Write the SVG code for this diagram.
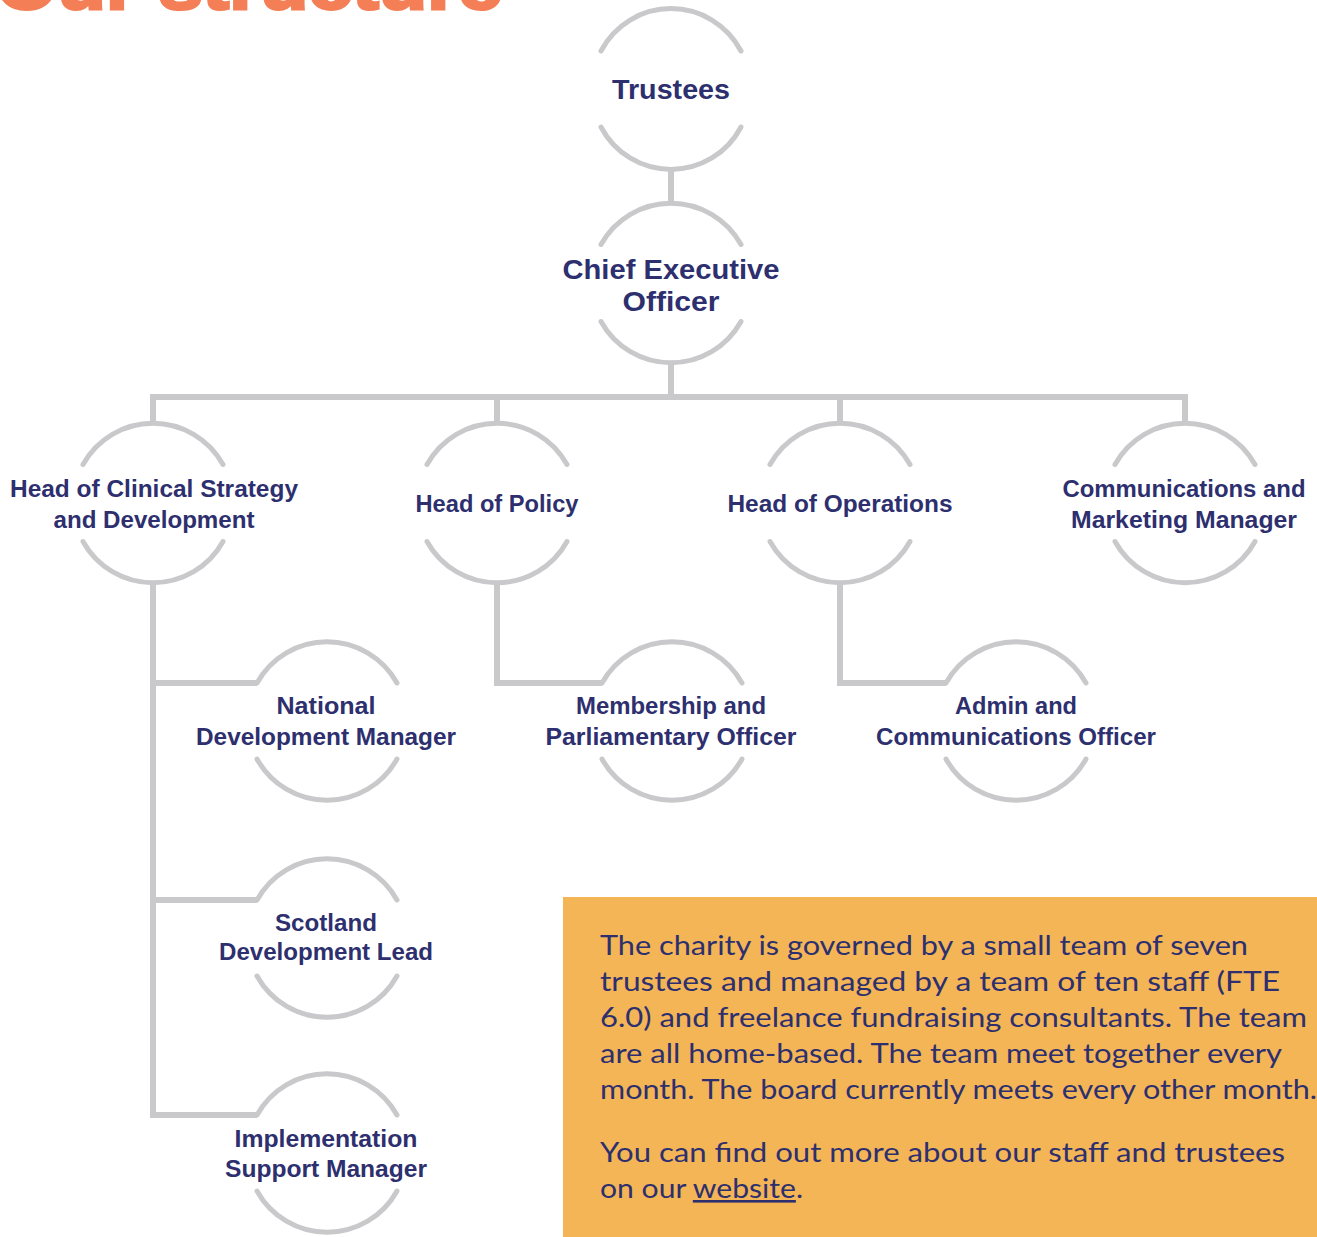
<svg xmlns="http://www.w3.org/2000/svg" width="1317" height="1237" viewBox="0 0 1317 1237">
<style>
.arc{fill:none;stroke:#c9c9cb;stroke-width:5;stroke-linecap:round}
.con{fill:none;stroke:#c9c9cb;stroke-width:6;stroke-linejoin:miter}
.lbl{font-family:"Liberation Sans",Arial,sans-serif;font-weight:bold;fill:#2d2f6e;text-anchor:middle;font-size:23px}
.big{font-size:27px}
.body{font-family:Lato,"Liberation Sans",sans-serif;font-size:26px;fill:#2d2f6e}
.title{font-family:"Liberation Sans",Arial,sans-serif;font-weight:bold;font-size:70px;fill:#f47f57;stroke:#f47f57;stroke-width:3}
</style>
<rect width="1317" height="1237" fill="#ffffff"/>
<text class="title" x="-4" y="9" textLength="506" lengthAdjust="spacingAndGlyphs">Our structure</text>

<g id="connectors">
<path class="con" d="M671 167 V203"/>
<path class="con" d="M671 362 V397"/>
<path class="con" d="M153 424 V397 H1185 V424"/>
<path class="con" d="M497 397 V424"/>
<path class="con" d="M840 397 V424"/>
<path class="con" d="M153 582 V1115 H257"/>
<path class="con" d="M153 683 H257"/>
<path class="con" d="M153 900 H257"/>
<path class="con" d="M497 582 V683 H602"/>
<path class="con" d="M840 582 V683 H946"/>
</g>

<g id="trustees">
<path class="arc" d="M601 51 A79 79 0 0 1 741 51"/>
<path class="arc" d="M601 127 A79 79 0 0 0 741 127"/>
<text class="lbl big" x="671" y="99" textLength="118" lengthAdjust="spacingAndGlyphs">Trustees</text>
</g>

<g id="ceo">
<path class="arc" d="M601 244.5 A80 80 0 0 1 741 244.5"/>
<path class="arc" d="M601 321.5 A80 80 0 0 0 741 321.5"/>
<text class="lbl big" x="671" y="279" textLength="217" lengthAdjust="spacingAndGlyphs">Chief Executive</text>
<text class="lbl big" x="671" y="311" textLength="97" lengthAdjust="spacingAndGlyphs">Officer</text>
</g>

<g id="head-clinical">
<path class="arc" d="M83 464.5 A80 80 0 0 1 223 464.5"/>
<path class="arc" d="M83 541.5 A80 80 0 0 0 223 541.5"/>
<text class="lbl" x="154" y="497" textLength="288" lengthAdjust="spacingAndGlyphs">Head of Clinical Strategy</text>
<text class="lbl" x="154" y="528" textLength="201" lengthAdjust="spacingAndGlyphs">and Development</text>
</g>

<g id="head-policy">
<path class="arc" d="M427 464.5 A80 80 0 0 1 567 464.5"/>
<path class="arc" d="M427 541.5 A80 80 0 0 0 567 541.5"/>
<text class="lbl" x="497" y="512" textLength="163" lengthAdjust="spacingAndGlyphs">Head of Policy</text>
</g>

<g id="head-operations">
<path class="arc" d="M770 464.5 A80 80 0 0 1 910 464.5"/>
<path class="arc" d="M770 541.5 A80 80 0 0 0 910 541.5"/>
<text class="lbl" x="840" y="512" textLength="225" lengthAdjust="spacingAndGlyphs">Head of Operations</text>
</g>

<g id="comms-marketing">
<path class="arc" d="M1115 464.5 A80 80 0 0 1 1255 464.5"/>
<path class="arc" d="M1115 541.5 A80 80 0 0 0 1255 541.5"/>
<text class="lbl" x="1184" y="497" textLength="243" lengthAdjust="spacingAndGlyphs">Communications and</text>
<text class="lbl" x="1184" y="528" textLength="226" lengthAdjust="spacingAndGlyphs">Marketing Manager</text>
</g>

<g id="national-dev">
<path class="arc" d="M257 683 A80 80 0 0 1 397 683"/>
<path class="arc" d="M257 759 A80 80 0 0 0 397 759"/>
<text class="lbl" x="326" y="714" textLength="99" lengthAdjust="spacingAndGlyphs">National</text>
<text class="lbl" x="326" y="745" textLength="260" lengthAdjust="spacingAndGlyphs">Development Manager</text>
</g>

<g id="membership">
<path class="arc" d="M602 683 A80 80 0 0 1 742 683"/>
<path class="arc" d="M602 759 A80 80 0 0 0 742 759"/>
<text class="lbl" x="671" y="714" textLength="190" lengthAdjust="spacingAndGlyphs">Membership and</text>
<text class="lbl" x="671" y="745" textLength="251" lengthAdjust="spacingAndGlyphs">Parliamentary Officer</text>
</g>

<g id="admin-comms">
<path class="arc" d="M946 683 A80 80 0 0 1 1086 683"/>
<path class="arc" d="M946 759 A80 80 0 0 0 1086 759"/>
<text class="lbl" x="1016" y="714" textLength="122" lengthAdjust="spacingAndGlyphs">Admin and</text>
<text class="lbl" x="1016" y="745" textLength="280" lengthAdjust="spacingAndGlyphs">Communications Officer</text>
</g>

<g id="scotland">
<path class="arc" d="M257 900 A80 80 0 0 1 397 900"/>
<path class="arc" d="M257 976 A80 80 0 0 0 397 976"/>
<text class="lbl" x="326" y="931" textLength="102" lengthAdjust="spacingAndGlyphs">Scotland</text>
<text class="lbl" x="326" y="960" textLength="214" lengthAdjust="spacingAndGlyphs">Development Lead</text>
</g>

<g id="implementation">
<path class="arc" d="M257 1115 A80 80 0 0 1 397 1115"/>
<path class="arc" d="M257 1191 A80 80 0 0 0 397 1191"/>
<text class="lbl" x="326" y="1147" textLength="183" lengthAdjust="spacingAndGlyphs">Implementation</text>
<text class="lbl" x="326" y="1177" textLength="202" lengthAdjust="spacingAndGlyphs">Support Manager</text>
</g>

<g id="info-box">
<rect x="563" y="897" width="754" height="340" fill="#f3b556"/>
<text class="body" x="600" y="955" textLength="648" lengthAdjust="spacingAndGlyphs">The charity is governed by a small team of seven</text>
<text class="body" x="600" y="991" textLength="680" lengthAdjust="spacingAndGlyphs">trustees and managed by a team of ten staff (FTE</text>
<text class="body" x="600" y="1027" textLength="707" lengthAdjust="spacingAndGlyphs">6.0) and freelance fundraising consultants. The team</text>
<text class="body" x="600" y="1063" textLength="682" lengthAdjust="spacingAndGlyphs">are all home-based. The team meet together every</text>
<text class="body" x="600" y="1099" textLength="717" lengthAdjust="spacingAndGlyphs">month. The board currently meets every other month.</text>
<text class="body" x="600" y="1162" textLength="685" lengthAdjust="spacingAndGlyphs">You can find out more about our staff and trustees</text>
<text class="body" x="600" y="1198" textLength="203" lengthAdjust="spacingAndGlyphs">on our <tspan text-decoration="underline">website</tspan>.</text>
</g>
</svg>
